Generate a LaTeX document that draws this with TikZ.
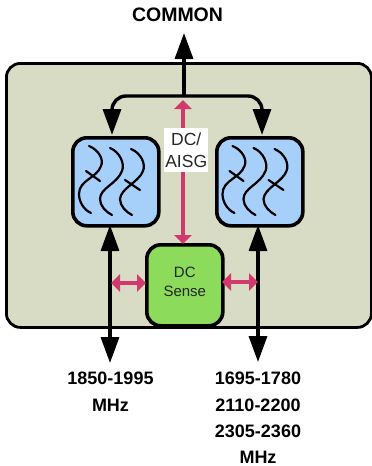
\documentclass[tikz,border=0pt]{standalone}
\usepackage{fontspec}
\setmainfont{Liberation Sans}
\usetikzlibrary{arrows.meta,positioning}
\definecolor{panelc}{HTML}{D8DCC5}
\definecolor{bluec}{HTML}{A6CFFA}
\definecolor{greenc}{HTML}{8CDB5A}
\definecolor{pinkc}{HTML}{D2386C}
\tikzset{
  x=1pt,y=-1pt,
  panelbox/.style={draw=black,line width=2.8pt,fill=panelc,rounded corners=14pt,minimum width=365pt,minimum height=264pt,anchor=north west,inner sep=0pt},
  filterbox/.style={draw=black,line width=3.6pt,fill=bluec,rounded corners=14pt,minimum width=86pt,minimum height=88pt,anchor=north west,inner sep=0pt},
  sensebox/.style={draw=black,line width=3.6pt,fill=greenc,rounded corners=14pt,minimum width=76pt,minimum height=81pt,anchor=north west,inner sep=0pt},
  senselabel/.style={inner sep=0pt,align=center,font=\fontsize{15pt}{18.5pt}\selectfont,text=black!85},
  wirelabel/.style={fill=white,inner sep=0pt,minimum width=44pt,minimum height=44pt,align=center,font=\fontsize{17.5pt}{22pt}\selectfont,text=black!85,anchor=north west},
  portlabel/.style={align=center,font=\bfseries\fontsize{18pt}{26.3pt}\selectfont,anchor=north,inner sep=0pt},
  blackwire/.style={draw=black,line width=3.4pt},
  blackhead/.style={-{Triangle[length=26pt,width=18pt]},blackwire},
  blackboth/.style={{Triangle[length=26pt,width=18pt]}-{Triangle[length=26pt,width=18pt]},blackwire},
  pinkboth/.style={{Triangle[length=9pt,width=17pt]}-{Triangle[length=9pt,width=17pt]},draw=pinkc,line width=3.6pt},
  resline/.style={draw=black,line width=2.2pt,line cap=round},
  pics/resonators/.style={code={
    \draw[resline] (10,10) .. controls (20,14) and (25,24) .. (22,30) .. controls (18,42) and (0,44) .. (0,58) .. controls (0,66) and (5,74) .. (12,77);
    \draw[resline] (7,35) -- (21,45);
    \draw[resline] (31,12) .. controls (41,16) and (46,28) .. (43,35) .. controls (38,48) and (21,52) .. (21,63) .. controls (21,70) and (27,76) .. (33,79);
    \draw[resline] (52,13) .. controls (62,17) and (67,28) .. (64,35) .. controls (60,46) and (42,52) .. (41,63) .. controls (41,70) and (47,76) .. (53,79);
    \draw[resline] (46,44) -- (61,54);
  }}
}
\begin{document}
\begin{tikzpicture}
\useasboundingbox (0,0) rectangle (372,466);
\node[panelbox] (panel) at (5,62) {};
\node[filterbox] (fl) at (71,136) {};
\node[filterbox] (fr) at (215,136) {};
\node[sensebox] (sense) at (145,243) {};
\node[senselabel] (senset) at (sense.center) [yshift=3.5pt] {DC\\Sense};
\pic at (79,136) {resonators};
\pic at (222.5,136) {resonators};
\node[portlabel,font=\bfseries\fontsize{19.5pt}{22pt}\selectfont] (common) at (177.5,8) {COMMON};
\node[portlabel] (la) at (110.5,372) {1850-1995\\MHz};
\node[portlabel] (lb) at (258,372) {1695-1780\\2110-2200\\2305-2360\\MHz};
\coordinate (ctop) at (184,33);
\coordinate (cjoin) at (184,96);
\coordinate (fltop) at (112,135);
\coordinate (frtop) at (262,135);
\coordinate (ltop) at (110,225);
\coordinate (lbot) at (110,363);
\coordinate (rtop) at (258,225);
\coordinate (rbot) at (258,362);
\coordinate (ptop) at (183,100);
\coordinate (pbot) at (183,244);
\coordinate (pl) at (111,283);
\coordinate (sl) at (146,283);
\coordinate (pr) at (258,282);
\coordinate (sr) at (222,282);
\draw[blackhead] (cjoin) -- (ctop);
\draw[blackhead,rounded corners=14pt] (cjoin) -| (fltop);
\draw[blackhead,rounded corners=14pt] (cjoin) -| (frtop);
\draw[blackboth] (ltop) -- (lbot);
\draw[blackboth] (rtop) -- (rbot);
\draw[pinkboth] (ptop) -- (pbot);
\draw[pinkboth] (pl) -- (sl);
\draw[pinkboth] (pr) -- (sr);
\node[wirelabel] (dcais) at (164,128) {DC/\\AISG};
\end{tikzpicture}
\end{document}
